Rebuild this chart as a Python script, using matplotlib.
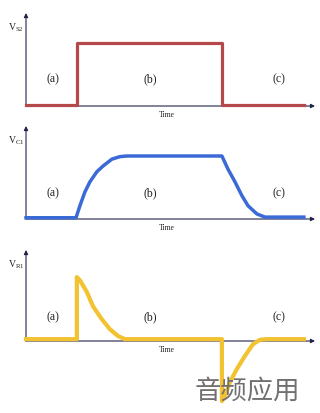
import matplotlib
matplotlib.use("Agg")
import matplotlib.pyplot as plt

plt.rcParams["mathtext.fontset"] = "custom"
plt.rcParams["mathtext.rm"] = "Liberation Serif"
plt.rcParams["font.family"] = ["Liberation Serif"]

# time axis runs 0..10.4, switch on at 1.83, off at 7.05
t_sw = [0.0, 1.83, 1.83, 7.05, 7.05, 10.0]
v_sw = [0.02, 0.02, 1.0, 1.0, 0.02, 0.02]

t_cap = [0.0, 1.80, 1.94, 2.12, 2.30, 2.55, 2.77, 3.09, 3.38, 3.63,
         7.05, 7.27, 7.52, 7.77, 7.99, 8.31, 8.6, 10.0]
v_cap = [0.02, 0.02, 0.21, 0.43, 0.59, 0.75, 0.84, 0.95, 0.99, 1.0,
         1.0, 0.79, 0.59, 0.37, 0.21, 0.08, 0.03, 0.03]

t_res = [0.0, 1.83, 1.83, 1.94, 2.19, 2.41, 2.73, 3.02, 3.31, 3.56,
         7.05, 7.05, 7.16, 7.34, 7.59, 7.88, 8.17, 8.42, 8.67, 10.0]
v_res = [0.03, 0.03, 1.03, 0.98, 0.79, 0.56, 0.35, 0.19, 0.08, 0.03,
         0.03, -0.97, -0.89, -0.66, -0.45, -0.24, -0.05, 0.02, 0.03, 0.03]

labels = ["(a)", "(b)", "(c)"]
label_x = [0.97, 4.46, 9.1]

W, H = 320, 414
fig = plt.figure(figsize=(W / 100, H / 100), dpi=100)

def make_axes(axis_y, top_y, bottom_y, unit):
    # pixel geometry -> figure fraction
    ax = fig.add_axes([26 / W, (H - bottom_y) / H, 289 / W, (bottom_y - top_y) / H])
    ax.set_xlim(0, 10.4)
    ax.set_ylim(-(bottom_y - axis_y) / unit, (axis_y - top_y) / unit)
    ax.axis("off")
    ymax = (axis_y - top_y) / unit
    arrow = dict(arrowstyle="-|>", lw=0.8, color="#22224a", mutation_scale=6,
                 shrinkA=0, shrinkB=0)
    ax.annotate("", xy=(10.4, 0), xytext=(0, 0), arrowprops=arrow)
    ax.annotate("", xy=(0, ymax), xytext=(0, 0), arrowprops=arrow)
    return ax

panels = [
    (107, 14, 108, 63, t_sw, v_sw, "#b5484b", 2.3, r"$\mathrm{V_{S2}}$", 0.44),
    (220, 127, 221, 63, t_cap, v_cap, "#3a6ad6", 2.5, r"$\mathrm{V_{C1}}$", 0.43),
    (342, 251, 405, 62, t_res, v_res, "#f2c231", 3.0, r"$\mathrm{V_{R1}}$", 0.40),
]

for axis_y, top_y, bottom_y, unit, t, v, color, lw, name, ly in panels:
    ax = make_axes(axis_y, top_y, bottom_y, unit)
    ax.plot(t, v, color=color, lw=lw, solid_joinstyle="round", clip_on=False, zorder=3)
    ax.text(-0.36, (axis_y - (top_y + 14)) / unit, name, ha="center", va="center",
            fontsize=7, color="#222222")
    for lab, x in zip(labels, label_x):
        ax.text(x, ly, lab, ha="center", va="center", fontsize=8.5, color="#222222")
    ax.text(5.07, -0.13, "Time", ha="center", va="center", fontsize=5.5, color="#222222")

fig.text(247 / W, 1 - 391 / H, "音频应用", ha="center", va="center", fontsize=19,
         color="#707070", family=["Noto Sans CJK SC", "DejaVu Sans"], fontweight="light")

fig.savefig("out.png", dpi=100, facecolor="white")
